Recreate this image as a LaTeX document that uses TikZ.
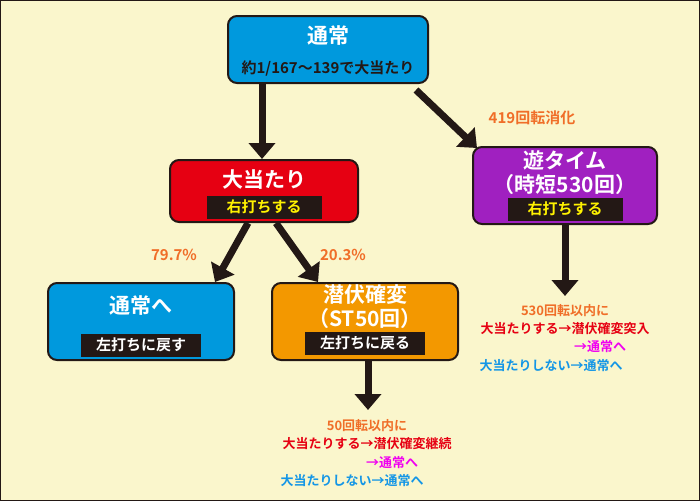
\documentclass[tikz,border=0pt]{standalone}
\usepackage{fontspec}
\setmainfont{Noto Sans CJK JP}[BoldFont={Noto Sans CJK JP Bold}]
\usetikzlibrary{arrows.meta,positioning}
\definecolor{bgyel}{RGB}{250,246,204}
\definecolor{ink}{RGB}{35,24,21}
\definecolor{cblue}{RGB}{0,153,221}
\definecolor{cred}{RGB}{230,0,18}
\definecolor{cpurp}{RGB}{160,32,192}
\definecolor{corange}{RGB}{243,152,0}
\definecolor{torange}{RGB}{240,110,40}
\definecolor{tmag}{RGB}{240,0,240}
\definecolor{tblue}{RGB}{20,150,230}
\tikzset{
  box/.style={draw=ink,line width=2pt,rounded corners=9pt,inner sep=0pt},
  tag/.style={fill=ink,inner sep=3pt,minimum height=23pt,font=\bfseries\fontsize{15}{15}\selectfont},
  big/.style={font=\bfseries\fontsize{21}{24}\selectfont,text=white},
  flow/.style={draw=ink,line width=7pt,-{Triangle[length=16pt,width=26pt]}},
  note/.style={font=\bfseries\fontsize{13}{14}\selectfont}
}
\begin{document}
\begin{tikzpicture}[x=1pt,y=-1pt]
\useasboundingbox (0,0) rectangle (700,501);
\draw [fill=bgyel,draw=ink,line width=1pt] (0.5,0.5) rectangle (699.5,500.5);

%Shape: boxes
\node [box,fill=cblue,minimum width=200pt,minimum height=67pt] (tsujo) at (328,49.5) {};
\node [box,fill=cred,minimum width=188pt,minimum height=62pt] (oatari) at (264,191) {};
\node [box,fill=cpurp,minimum width=184pt,minimum height=77pt] (yutime) at (565,185.5) {};
\node [box,fill=cblue,minimum width=186pt,minimum height=77pt] (back) at (141,321.5) {};
\node [box,fill=corange,minimum width=186pt,minimum height=77pt] (senpuku) at (365,321.5) {};

% Text Node
\node [big] at (328,36) {通常};
\node [font=\bfseries\fontsize{15}{15}\selectfont,text=ink] at (328,68) {約1/167〜139で大当たり};
\node [big] at (264,180) {大当たり};
\node [tag,text=yellow,minimum width=115pt] at (264,207) {右打ちする};
\node [big,align=center] at (565,173) {遊タイム\\（時短530回）};
\node [tag,text=yellow,minimum width=115pt] at (565,209) {右打ちする};
\node [big] at (141,306) {通常へ};
\node [tag,text=white,minimum width=120pt] at (141,345) {左打ちに戻す};
\node [big,align=center] at (365,307) {潜伏確変\\（ST50回）};
\node [tag,text=white,minimum width=120pt] at (365,343) {左打ちに戻る};

% arrows
\coordinate (endA) at (368,410);
\coordinate (endB) at (565,296);
\draw [flow] ([xshift=-66pt]tsujo.south) -- ([xshift=-2pt]oatari.north);
\draw [flow] ([xshift=88pt,yshift=-6pt]tsujo.south) -- ([xshift=-88pt,yshift=-2pt]yutime.north);
\draw [flow] ([xshift=-16pt]oatari.south) -- ([xshift=74pt]back.north);
\draw [flow] ([xshift=12pt]oatari.south) -- ([xshift=-47pt]senpuku.north);
\draw [flow] ([xshift=3pt]senpuku.south) -- (endA);
\draw [flow] (yutime.south) -- (endB);

% Text Node
\node [note,text=torange,font=\bfseries\fontsize{15}{15}\selectfont] (n419) at (532,118) {419回転消化};
\node [note,text=torange,font=\bfseries\fontsize{15}{15}\selectfont] (p797) at (174,255) {79.7\%};
\node [note,text=torange,font=\bfseries\fontsize{15}{15}\selectfont] (p203) at (343,255) {20.3\%};

\node [note,text=torange] (a1) at (565,311) {530回転以内に};
\node [note,text=cred] (a2) at (565,329) {大当たりする→潜伏確変突入};
\node [note,text=tmag] (a3) at (600,347) {→通常へ};
\node [note,text=tblue] (a4) at (551,366) {大当たりしない→通常へ};

\node [note,text=torange] (b1) at (367,426) {50回転以内に};
\node [note,text=cred] (b2) at (367,444) {大当たりする→潜伏確変継続};
\node [note,text=tmag] (b3) at (392,463) {→通常へ};
\node [note,text=tblue] (b4) at (352,481) {大当たりしない→通常へ};
\end{tikzpicture}
\end{document}
